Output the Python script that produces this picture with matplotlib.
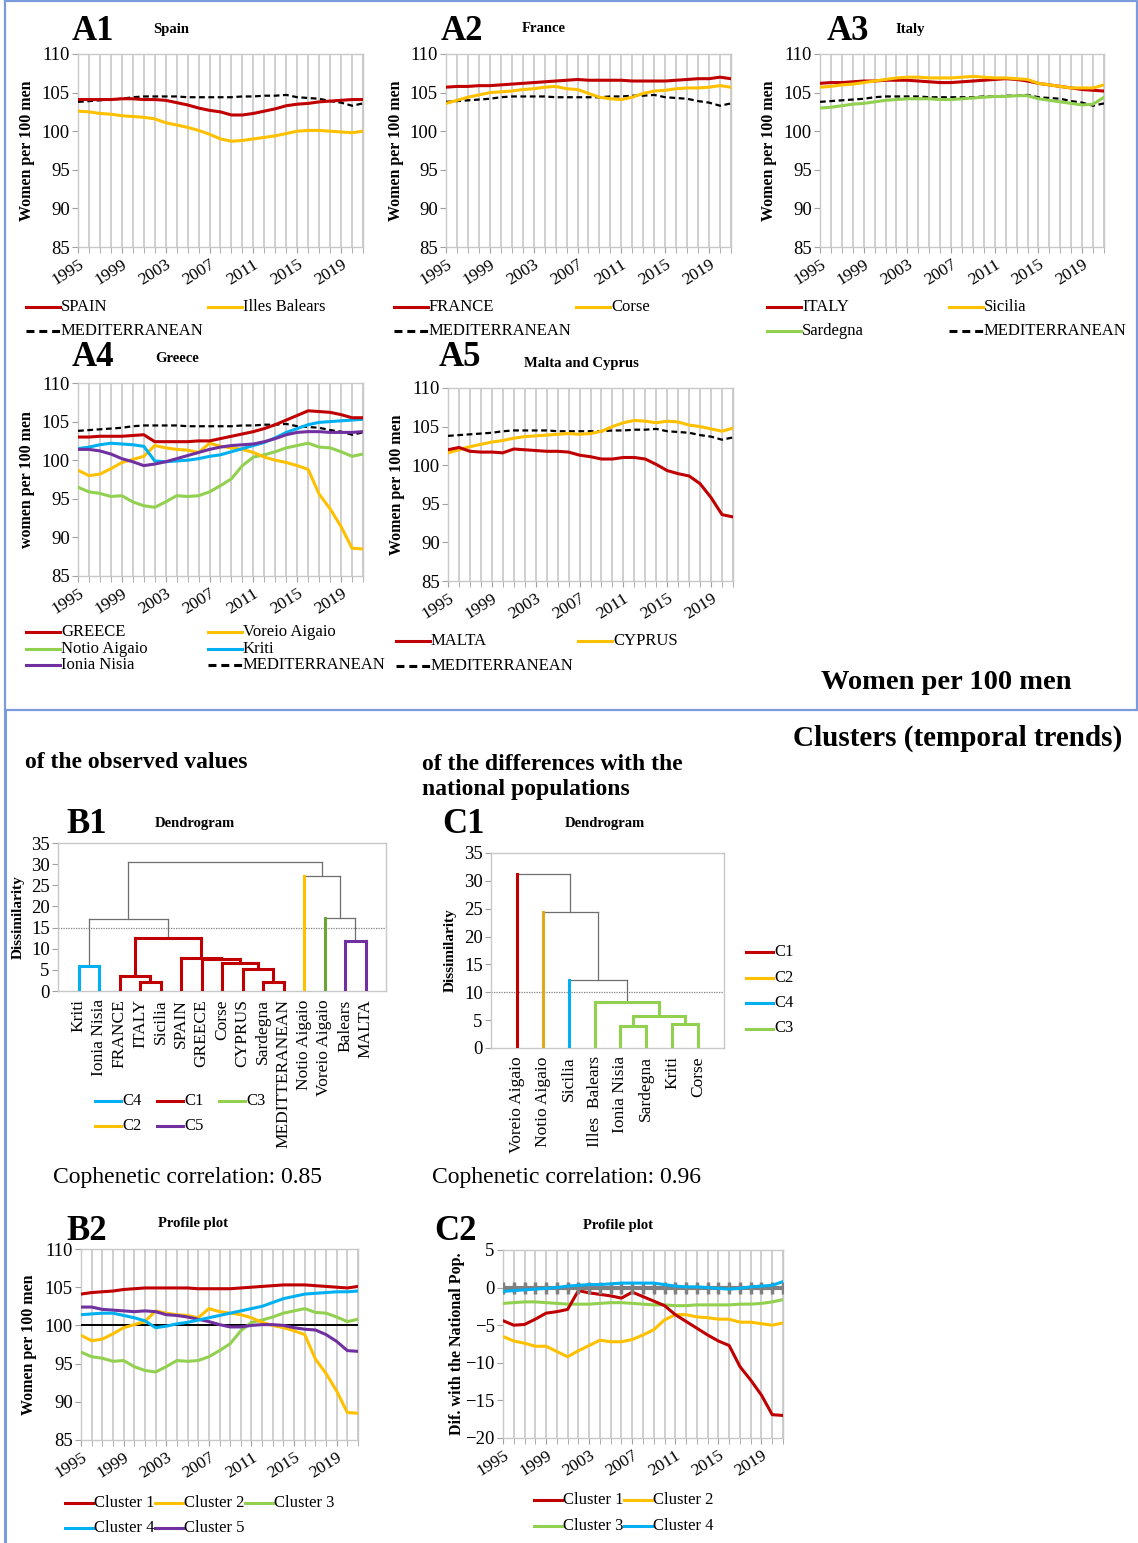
import matplotlib
matplotlib.use('Agg')
import matplotlib.pyplot as plt
from matplotlib.lines import Line2D
import numpy as np

plt.rcParams['font.family'] = ['Liberation Serif', 'DejaVu Serif']

W, H = 1138, 1543

years = list(range(1995, 2022))
year_labels = [1995, 1999, 2003, 2007, 2011, 2015, 2019]

# --- A panels: women per 100 men ---
mediterranean = [103.8, 103.9, 104.0, 104.1, 104.2, 104.4, 104.5, 104.5, 104.5, 104.5, 104.4, 104.4, 104.4, 104.4,
                 104.4, 104.5, 104.5, 104.6, 104.6, 104.7, 104.4, 104.3, 104.2, 103.9, 103.7, 103.3, 103.6]
spain = [104.1, 104.1, 104.1, 104.1, 104.2, 104.2, 104.1, 104.1, 104.0, 103.7, 103.4, 103.0, 102.7, 102.5,
         102.1, 102.1, 102.3, 102.6, 102.9, 103.3, 103.5, 103.6, 103.8, 103.9, 104.0, 104.1, 104.1]
illes_balears = [102.6, 102.5, 102.3, 102.2, 102.0, 101.9, 101.8, 101.6, 101.1, 100.8, 100.5, 100.1, 99.6, 99.0,
                 98.7, 98.8, 99.0, 99.2, 99.4, 99.7, 100.0, 100.1, 100.1, 100.0, 99.9, 99.8, 100.0]
france = [105.7, 105.8, 105.8, 105.9, 105.9, 106.0, 106.1, 106.2, 106.3, 106.4, 106.5, 106.6, 106.7, 106.6,
          106.6, 106.6, 106.6, 106.5, 106.5, 106.5, 106.5, 106.6, 106.7, 106.8, 106.8, 107.0, 106.8]
corse = [103.6, 104.0, 104.4, 104.7, 105.0, 105.1, 105.2, 105.4, 105.5, 105.7, 105.8, 105.5, 105.4, 104.9,
         104.4, 104.2, 104.1, 104.4, 104.9, 105.2, 105.3, 105.5, 105.6, 105.6, 105.7, 105.9, 105.7]
italy = [106.2, 106.3, 106.3, 106.4, 106.5, 106.5, 106.6, 106.6, 106.6, 106.5, 106.4, 106.3, 106.3, 106.4,
         106.5, 106.6, 106.7, 106.8, 106.7, 106.5, 106.2, 106.0, 105.8, 105.6, 105.4, 105.3, 105.2]
sicilia = [105.7, 105.8, 106.0, 106.1, 106.3, 106.5, 106.7, 106.9, 107.0, 107.0, 106.9, 106.9, 106.9, 107.0,
           107.1, 107.0, 106.9, 106.9, 106.8, 106.7, 106.2, 106.0, 105.8, 105.6, 105.6, 105.6, 106.0]
sardegna = [103.0, 103.1, 103.3, 103.5, 103.6, 103.8, 104.0, 104.1, 104.2, 104.2, 104.2, 104.1, 104.1, 104.2,
            104.3, 104.4, 104.5, 104.5, 104.6, 104.6, 104.2, 104.0, 103.8, 103.6, 103.4, 103.5, 104.4]
greece = [103.0, 103.0, 103.1, 103.1, 103.1, 103.2, 103.3, 102.4, 102.4, 102.4, 102.4, 102.5, 102.5, 102.8,
          103.1, 103.4, 103.7, 104.1, 104.6, 105.2, 105.8, 106.4, 106.3, 106.2, 105.9, 105.5, 105.5]
voreio_aigaio = [98.7, 98.0, 98.2, 98.9, 99.7, 100.1, 100.5, 101.9, 101.6, 101.4, 101.3, 101.0, 102.2, 101.8,
                 101.6, 101.4, 101.0, 100.4, 100.0, 99.7, 99.3, 98.8, 95.6, 93.7, 91.4, 88.6, 88.5]
notio_aigaio = [96.5, 95.9, 95.7, 95.3, 95.4, 94.6, 94.1, 93.9, 94.6, 95.4, 95.3, 95.4, 95.9, 96.7,
                97.6, 99.3, 100.4, 100.7, 101.1, 101.6, 101.9, 102.2, 101.7, 101.6, 101.1, 100.5, 100.8]
kriti = [101.5, 101.7, 102.0, 102.2, 102.1, 102.0, 101.8, 99.9, 99.8, 99.9, 100.0, 100.2, 100.5, 100.7,
         101.1, 101.5, 101.9, 102.3, 102.9, 103.6, 104.1, 104.6, 104.9, 105.0, 105.1, 105.2, 105.3]
ionia_nisia = [101.4, 101.4, 101.2, 100.8, 100.2, 99.8, 99.3, 99.5, 99.8, 100.2, 100.6, 101.0, 101.4, 101.7,
               101.9, 102.0, 102.1, 102.4, 102.8, 103.3, 103.6, 103.7, 103.7, 103.6, 103.6, 103.6, 103.7]
malta = [102.0, 102.3, 101.8, 101.7, 101.7, 101.6, 102.1, 102.0, 101.9, 101.8, 101.8, 101.7, 101.3, 101.1,
         100.8, 100.8, 101.0, 101.0, 100.8, 100.1, 99.3, 98.9, 98.6, 97.6, 95.8, 93.6, 93.3]
cyprus = [101.6, 102.0, 102.4, 102.7, 103.0, 103.2, 103.5, 103.7, 103.8, 103.9, 104.0, 104.1, 104.0, 104.1,
          104.4, 105.0, 105.5, 105.8, 105.7, 105.5, 105.7, 105.6, 105.2, 105.0, 104.7, 104.4, 104.8]

# --- B2 profile plot (observed values) ---
b2_cluster1 = [104.1, 104.3, 104.4, 104.5, 104.7, 104.8, 104.9, 104.9, 104.9, 104.9, 104.9, 104.8, 104.8, 104.8,
               104.8, 104.9, 105.0, 105.1, 105.2, 105.3, 105.3, 105.3, 105.2, 105.1, 105.0, 104.9, 105.1]
b2_cluster2 = voreio_aigaio
b2_cluster3 = notio_aigaio
b2_cluster4 = [101.4, 101.5, 101.6, 101.6, 101.3, 101.0, 100.6, 99.7, 99.9, 100.2, 100.4, 100.7, 101.0, 101.3,
               101.6, 101.9, 102.2, 102.5, 103.0, 103.5, 103.8, 104.1, 104.2, 104.3, 104.4, 104.4, 104.5]
b2_cluster5 = [102.4, 102.4, 102.1, 102.0, 101.9, 101.8, 101.9, 101.8, 101.4, 101.3, 101.1, 100.8, 100.5, 100.1,
               99.8, 99.8, 100.0, 100.1, 100.1, 100.0, 99.7, 99.5, 99.4, 98.8, 97.9, 96.7, 96.6]
b2_reference = [100] * len(years)

# --- C2 profile plot (differences with national populations) ---
c2_cluster1 = [-4.4, -5.0, -4.9, -4.2, -3.4, -3.2, -2.9, -0.4, -0.7, -0.9, -1.1, -1.4, -0.6, -1.2,
               -1.8, -2.4, -3.6, -4.5, -5.4, -6.3, -7.1, -7.7, -10.5, -12.3, -14.3, -16.9, -17.0]
c2_cluster2 = [-6.5, -7.1, -7.4, -7.8, -7.8, -8.5, -9.2, -8.4, -7.7, -7.0, -7.2, -7.2, -6.9, -6.3,
               -5.6, -4.3, -3.6, -3.6, -3.9, -4.0, -4.2, -4.2, -4.6, -4.6, -4.8, -5.0, -4.7]
c2_cluster3 = [-2.1, -2.0, -1.9, -1.9, -2.0, -2.1, -2.2, -2.2, -2.2, -2.1, -2.0, -2.0, -2.1, -2.2,
               -2.3, -2.3, -2.4, -2.4, -2.3, -2.3, -2.3, -2.3, -2.2, -2.2, -2.1, -1.9, -1.6]
c2_cluster4 = [-0.5, -0.4, -0.3, -0.2, -0.1, 0.0, 0.2, 0.3, 0.4, 0.4, 0.5, 0.6, 0.6, 0.6,
               0.6, 0.4, 0.2, 0.1, 0.1, 0.0, -0.1, -0.2, -0.1, 0.1, 0.2, 0.3, 0.8]
c2_reference = [0] * len(years)

# --- dendrograms: leaves, leaf cluster, merges (child, child, height, cluster) ---
b1_leaves = ['Kriti', 'Ionia Nisia', 'FRANCE', 'ITALY', 'Sicilia', 'SPAIN', 'GREECE', 'Corse', 'CYPRUS',
             'Sardegna', 'MEDITTERANEAN', 'Notio Aigaio', 'Voreio Aigaio', 'Balears', 'MALTA']
b1_leaf_cluster = ['C4', 'C4', 'C1', 'C1', 'C1', 'C1', 'C1', 'C1', 'C1', 'C1', 'C1', 'C2', 'C3', 'C5', 'C5']
b1_merges = [
    ('Kriti', 'Ionia Nisia', 5.8, 'C4'),
    ('ITALY', 'Sicilia', 2.1, 'C1'),
    ('FRANCE', 1, 3.6, 'C1'),
    ('Sardegna', 'MEDITTERANEAN', 2.2, 'C1'),
    ('CYPRUS', 3, 5.2, 'C1'),
    ('Corse', 4, 6.6, 'C1'),
    ('GREECE', 5, 7.6, 'C1'),
    ('SPAIN', 6, 7.9, 'C1'),
    (2, 7, 12.6, 'C1'),
    (0, 8, 17.0, 'top'),
    ('Balears', 'MALTA', 11.9, 'C5'),
    ('Voreio Aigaio', 10, 17.3, 'top'),
    ('Notio Aigaio', 11, 27.3, 'top'),
    (9, 12, 30.6, 'top'),
]
b1_cut = 14.8

c1_leaves = ['Voreio Aigaio', 'Notio Aigaio', 'Sicilia', 'Illes  Balears', 'Ionia Nisia', 'Sardegna', 'Kriti', 'Corse']
c1_leaf_cluster = ['C1', 'C2', 'C4', 'C3', 'C3', 'C3', 'C3', 'C3']
c1_merges = [
    ('Ionia Nisia', 'Sardegna', 3.9, 'C3'),
    ('Kriti', 'Corse', 4.3, 'C3'),
    (0, 1, 5.7, 'C3'),
    ('Illes  Balears', 2, 8.2, 'C3'),
    ('Sicilia', 3, 12.2, 'top'),
    ('Notio Aigaio', 4, 24.5, 'top'),
    ('Voreio Aigaio', 5, 31.3, 'top'),
]
c1_cut = 10.1

RED, ORANGE, GREEN, BLUE, PURPLE = '#c00000', '#ffc000', '#92d050', '#00b0f0', '#7030a0'
cl_col = {'C1': RED, 'C2': ORANGE, 'C3': GREEN, 'C4': BLUE, 'C5': PURPLE, 'top': '#6e6e6e'}
c1_col = {'C1': RED, 'C2': '#e0a81c', 'C3': GREEN, 'C4': BLUE, 'top': '#6e6e6e'}
b1_col = dict(cl_col, C3='#6aa536')

fig = plt.figure(figsize=(W / 100, H / 100), dpi=100)


def fx(x):
    return x / W


def fy(y):
    return 1 - y / H


def axpx(l, t, r, b):
    return fig.add_axes([fx(l), fy(b), (r - l) / W, (b - t) / H])


def style_box(ax):
    for s in ax.spines.values():
        s.set_color('#c8c8c8')
        s.set_linewidth(1.0)
    ax.tick_params(axis='y', length=4, color='#a0a0a0', labelsize=13.5, pad=2)


def put_ylabel(ax, box, text, center_x, fs):
    # label anchor is its right edge, so shift by half the text height
    ax.set_ylabel(text, fontsize=fs, fontweight='bold')
    ax.yaxis.set_label_coords((center_x + fs * 0.62 - box[0]) / (box[2] - box[0]), 0.5)


def line_panel(box, series, ylim, ystep, ylabel, ylab_x, ylab_fs=11.5):
    ax = axpx(*box)
    ax.set_xlim(years[0], years[-1])
    ax.set_ylim(*ylim)
    ax.set_xticks(year_labels)
    ax.set_xticks(years, minor=True)
    ax.set_xticklabels([str(y) for y in year_labels], rotation=32, ha='right', rotation_mode='anchor', fontsize=12.5)
    ax.tick_params(axis='x', which='both', length=4, color='#a0a0a0', pad=3)
    ax.set_yticks(np.arange(ylim[0], ylim[1] + 0.1, ystep))
    ax.grid(axis='x', which='both', color='#cccccc', lw=1.3)
    ax.set_axisbelow(True)
    style_box(ax)
    for vals, col, ls, lw in series:
        ax.plot(years, vals, color=col, ls=ls, lw=lw, solid_capstyle='round', zorder=3)
    put_ylabel(ax, box, ylabel, ylab_x, ylab_fs)
    return ax


def legend_px(entries, x0, y0, colw, rowh, ncol, fs=12, linelen=34):
    for k, (lab, col, ls) in enumerate(entries):
        r, c = divmod(k, ncol)
        x = x0 + c * colw
        y = y0 + r * rowh
        fig.add_artist(Line2D([fx(x), fx(x + linelen)], [fy(y), fy(y)], color=col, ls=ls, lw=2.2))
        fig.text(fx(x + linelen + 1), fy(y), lab, fontsize=fs, va='center', ha='left')


def panel_titles(tag, tag_x, tag_y, title, title_x, title_y):
    fig.text(fx(tag_x), fy(tag_y), tag, fontsize=25, fontweight='bold', va='center', ha='left')
    fig.text(fx(title_x), fy(title_y), title, fontsize=10.5, fontweight='bold', va='center', ha='left')


def dendrogram(box, leaves, leaf_cluster, merges, cut, colors, ylab_x):
    ax = axpx(*box)
    pos = {name: i + 1 for i, name in enumerate(leaves)}
    lc = dict(zip(leaves, leaf_cluster))
    centers, heights = [], []
    for a, b, h, c in merges:
        col = colors[c]
        lw = 0.9 if c == 'top' else 2.2
        xs, bases = [], []
        for child in (a, b):
            if isinstance(child, str):
                xs.append(pos[child])
                bases.append(0)
                ccol = colors[lc[child]]
                clw = 2.2
            else:
                xs.append(centers[child])
                bases.append(heights[child])
                ccol = col
                clw = lw
            ax.plot([xs[-1], xs[-1]], [bases[-1], h], color=ccol, lw=clw, zorder=3 if clw > 1 else 2)
        ax.plot(xs, [h, h], color=col, lw=lw, zorder=3 if lw > 1 else 2)
        centers.append(sum(xs) / 2)
        heights.append(h)
    ax.axhline(cut, color='#7f7f7f', ls=(0, (1, 1)), lw=0.9, zorder=1)
    ax.set_xlim(0, len(leaves) + 1)
    ax.set_ylim(0, 35)
    ax.set_yticks(range(0, 36, 5))
    ax.set_xticks(range(1, len(leaves) + 1))
    ax.set_xticklabels(leaves, rotation=90, fontsize=12.5, va='top')
    ax.tick_params(axis='x', length=0, pad=6)
    style_box(ax)
    put_ylabel(ax, box, 'Dissimilarity', ylab_x, 11)
    return ax


MED_LS = (0, (2.6, 1.6))
WP = 'Women per 100 men'

# A1 Spain
line_panel((78, 54, 363, 247), [(mediterranean, 'black', MED_LS, 1.6), (illes_balears, ORANGE, '-', 2.2),
                                (spain, RED, '-', 2.2)], (85, 110), 5, WP, 28)
panel_titles('A1', 72, 31, 'Spain', 153, 29)
legend_px([('SPAIN', RED, '-'), ('Illes Balears', ORANGE, '-'), ('MEDITERRANEAN', 'black', MED_LS)],
          26, 307, 182, 24, 2)

# A2 France
line_panel((446, 54, 731, 247), [(mediterranean, 'black', MED_LS, 1.6), (corse, ORANGE, '-', 2.2),
                                 (france, RED, '-', 2.2)], (85, 110), 5, WP, 397)
panel_titles('A2', 441, 31, 'France', 522, 29)
legend_px([('FRANCE', RED, '-'), ('Corse', ORANGE, '-'), ('MEDITERRANEAN', 'black', MED_LS)],
          394, 307, 182, 24, 2)

# A3 Italy
line_panel((820, 54, 1104, 247), [(mediterranean, 'black', MED_LS, 1.6), (sardegna, GREEN, '-', 2.2),
                                  (italy, RED, '-', 2.2), (sicilia, ORANGE, '-', 2.2)], (85, 110), 5, WP, 770)
panel_titles('A3', 827, 31, 'Italy', 895, 29)
legend_px([('ITALY', RED, '-'), ('Sicilia', ORANGE, '-'), ('Sardegna', GREEN, '-'), ('MEDITERRANEAN', 'black', MED_LS)],
          767, 307, 182, 24, 2)

# A4 Greece
line_panel((78, 383, 363, 576), [(mediterranean, 'black', MED_LS, 1.6), (notio_aigaio, GREEN, '-', 2.2),
                                 (voreio_aigaio, ORANGE, '-', 2.2), (kriti, BLUE, '-', 2.2),
                                 (ionia_nisia, PURPLE, '-', 2.2), (greece, RED, '-', 2.2)],
           (85, 110), 5, 'women per 100 men', 28)
panel_titles('A4', 72, 357, 'Greece', 155, 358)
legend_px([('GREECE', RED, '-'), ('Voreio Aigaio', ORANGE, '-'), ('Notio Aigaio', GREEN, '-'),
           ('Kriti', BLUE, '-'), ('Ionia Nisia', PURPLE, '-'), ('MEDITERRANEAN', 'black', MED_LS)],
          26, 632, 182, 16.5, 2)

# A5 Malta and Cyprus
line_panel((448, 388, 733, 581), [(mediterranean, 'black', MED_LS, 1.6), (cyprus, ORANGE, '-', 2.2),
                                  (malta, RED, '-', 2.2)], (85, 110), 5, WP, 398)
panel_titles('A5', 439, 357, 'Malta and Cyprus', 524, 364)
legend_px([('MALTA', RED, '-'), ('CYPRUS', ORANGE, '-'), ('MEDITERRANEAN', 'black', MED_LS)],
          396, 641, 182, 25, 2)

fig.text(fx(946), fy(682), 'Women per 100 men', fontsize=20.5, fontweight='bold', ha='center', va='center')

# section headings
fig.text(fx(1122), fy(738), 'Clusters (temporal trends)', fontsize=21, fontweight='bold', ha='right', va='center')
fig.text(fx(25), fy(762), 'of the observed values', fontsize=17, fontweight='bold', ha='left', va='center')
fig.text(fx(422), fy(777), 'of the differences with the\nnational populations', fontsize=17, fontweight='bold',
         ha='left', va='center', linespacing=1.3)

# B1 / C1 dendrograms
dendrogram((58, 843, 386, 991), b1_leaves, b1_leaf_cluster, b1_merges, b1_cut, b1_col, 18)
panel_titles('B1', 66, 825, 'Dendrogram', 155, 823)
legend_px([('C4', BLUE, '-'), ('C1', RED, '-'), ('C3', GREEN, '-'), ('C2', ORANGE, '-'), ('C5', PURPLE, '-')],
          95, 1101, 62, 25, 3, linelen=26)

dendrogram((491, 853, 724, 1048), c1_leaves, c1_leaf_cluster, c1_merges, c1_cut, c1_col, 450)
panel_titles('C1', 442, 825, 'Dendrogram', 565, 823)
legend_px([('C1', RED, '-'), ('C2', ORANGE, '-'), ('C4', BLUE, '-'), ('C3', GREEN, '-')],
          746, 952, 0, 25.5, 1, linelen=27)

fig.text(fx(53), fy(1177), 'Cophenetic correlation: 0.85', fontsize=17, ha='left', va='center')
fig.text(fx(432), fy(1177), 'Cophenetic correlation: 0.96', fontsize=17, ha='left', va='center')

# B2 profile plot
line_panel((81, 1249, 358, 1440), [(b2_reference, 'black', '-', 1.4), (b2_cluster3, GREEN, '-', 2.2),
                                   (b2_cluster2, ORANGE, '-', 2.2), (b2_cluster5, PURPLE, '-', 2.2),
                                   (b2_cluster4, BLUE, '-', 2.2), (b2_cluster1, RED, '-', 2.2)],
           (85, 110), 5, WP, 30)
panel_titles('B2', 66, 1232, 'Profile plot', 158, 1223)
legend_px([('Cluster 1', RED, '-'), ('Cluster 2', ORANGE, '-'), ('Cluster 3', GREEN, '-'),
           ('Cluster 4', BLUE, '-'), ('Cluster 5', PURPLE, '-')], 65, 1503, 90, 25, 3, linelen=28)

# C2 profile plot
ax_c2 = line_panel((503, 1250, 783, 1438), [(c2_cluster3, GREEN, '-', 2.2), (c2_cluster2, ORANGE, '-', 2.2),
                                            (c2_cluster1, RED, '-', 2.2)],
                   (-20, 5), 5, 'Dif. with the National Pop.', 458)
ax_c2.plot(years, c2_reference, color='#808080', lw=3, marker='|', markersize=8, mew=2.5, zorder=3)
ax_c2.plot(years, c2_cluster4, color=BLUE, lw=2.2, zorder=4)
panel_titles('C2', 434, 1232, 'Profile plot', 583, 1225)
legend_px([('Cluster 1', RED, '-'), ('Cluster 2', ORANGE, '-'), ('Cluster 3', GREEN, '-'),
           ('Cluster 4', BLUE, '-')], 534, 1500, 90, 26, 2, linelen=28)

# blue frame lines
FRAME = '#7b9bdc'
fig.add_artist(Line2D([fx(5), fx(1137), fx(1137), fx(5), fx(5)], [fy(1), fy(1), fy(710), fy(710), fy(1)],
                      color=FRAME, lw=1.6))
fig.add_artist(Line2D([fx(1137), fx(1138)], [fy(710), fy(710)], color=FRAME, lw=1.6))
fig.add_artist(Line2D([fx(5), fx(5)], [fy(710), fy(1543)], color=FRAME, lw=2.2))

fig.savefig('out.png', dpi=100)
